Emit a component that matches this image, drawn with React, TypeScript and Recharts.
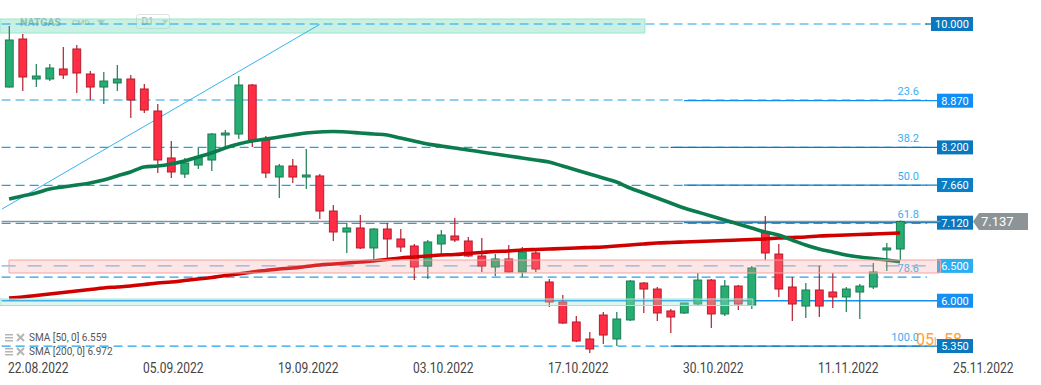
import { Bar, ComposedChart, Line, ReferenceArea, ReferenceLine, XAxis, YAxis } from "recharts"

const dates = ["22.08.2022", "05.09.2022", "19.09.2022", "03.10.2022", "17.10.2022", "30.10.2022", "11.11.2022", "25.11.2022"]
const dateIdx = [0, 10, 20, 30, 40, 50, 60, 70]

const opens = [
  9.066, 9.755, 9.181, 9.181, 9.325, 9.612, 9.253, 9.066, 9.124, 9.181,
  9.038, 8.722, 8.048, 7.818, 7.947, 8.019, 8.378, 8.392, 9.095, 8.306,
  7.775, 7.933, 7.775, 7.79, 7.287, 6.986, 7.044, 6.757, 7.029, 6.886,
  6.785, 6.498, 6.814, 6.929, 6.857, 6.642, 6.484, 6.599, 6.412, 6.685,
  6.269, 5.982, 5.695, 5.451, 5.795, 5.451, 5.724, 6.254, 6.168, 5.853,
  5.824, 5.953, 6.297, 5.81, 6.211, 5.939, 6.986, 6.67, 6.197, 5.924,
  6.154, 6.125, 6.054, 6.125, 6.197, 6.728, 6.742,
]
const highs = [
  9.942, 9.827, 9.396, 9.396, 9.64, 9.669, 9.296, 9.282, 9.382, 9.239,
  9.109, 8.823, 8.292, 8.048, 8.191, 8.406, 8.45, 9.224, 9.109, 8.363,
  7.962, 8.033, 8.177, 7.818, 7.374, 7.115, 7.23, 7.044, 7.115, 7.029,
  6.814, 6.871, 7.015, 7.187, 6.914, 6.9, 6.67, 6.8, 6.771, 6.714,
  6.312, 6.082, 5.781, 5.551, 5.838, 5.838, 6.297, 6.269, 6.197, 5.881,
  5.968, 6.398, 6.312, 6.297, 6.226, 6.498, 7.216, 6.814, 6.34, 6.254,
  6.498, 6.398, 6.197, 6.24, 6.541, 6.828, 7.15,
]
const lows = [
  9.06, 9.009, 9.066, 9.152, 9.181, 8.98, 8.88, 8.823, 9.009, 8.622,
  8.693, 7.833, 7.761, 7.761, 7.89, 7.861, 8.206, 8.32, 8.206, 7.761,
  7.474, 7.689, 7.603, 7.173, 6.857, 6.685, 6.742, 6.584, 6.584, 6.699,
  6.297, 6.312, 6.656, 6.843, 6.627, 6.412, 6.355, 6.398, 6.34, 6.412,
  5.91, 5.666, 5.408, 5.25, 5.379, 5.35, 5.709, 5.824, 5.709, 5.537,
  5.81, 5.939, 5.609, 5.781, 5.867, 5.881, 6.584, 6.054, 5.709, 5.752,
  5.767, 5.896, 5.838, 5.738, 6.168, 6.427, 6.584,
]
const closes = [
  9.741, 9.21, 9.224, 9.339, 9.239, 9.267, 9.066, 9.152, 9.181, 8.88,
  8.736, 8.019, 7.847, 7.976, 8.062, 8.392, 8.406, 9.095, 8.306, 7.833,
  7.933, 7.775, 7.804, 7.287, 6.986, 7.044, 6.757, 7.029, 6.886, 6.771,
  6.484, 6.843, 6.943, 6.871, 6.642, 6.498, 6.599, 6.412, 6.699, 6.455,
  5.982, 5.68, 5.422, 5.308, 5.508, 5.738, 6.283, 6.168, 5.824, 5.767,
  5.968, 6.297, 5.81, 6.211, 5.953, 6.47, 6.685, 6.168, 5.953, 6.154,
  5.924, 6.054, 6.168, 6.211, 6.412, 6.757, 7.137,
]
const sma50 = [
  7.46, 7.503, 7.546, 7.603, 7.632, 7.66, 7.689, 7.732, 7.79, 7.847,
  7.919, 7.933, 7.962, 8.005, 8.062, 8.12, 8.191, 8.249, 8.292, 8.32,
  8.349, 8.378, 8.406, 8.421, 8.428, 8.421, 8.406, 8.392, 8.378, 8.335,
  8.292, 8.249, 8.22, 8.191, 8.163, 8.134, 8.105, 8.077, 8.048, 8.019,
  7.99, 7.933, 7.876, 7.818, 7.761, 7.703, 7.617, 7.546, 7.474, 7.402,
  7.33, 7.273, 7.216, 7.158, 7.101, 7.044, 6.986, 6.943, 6.871, 6.8,
  6.742, 6.699, 6.656, 6.627, 6.606, 6.584, 6.559,
]
const sma200 = [
  6.039, 6.053, 6.075, 6.097, 6.118, 6.14, 6.161, 6.183, 6.197, 6.211,
  6.233, 6.254, 6.269, 6.29, 6.312, 6.333, 6.362, 6.384, 6.412, 6.434,
  6.455, 6.47, 6.491, 6.513, 6.527, 6.541, 6.556, 6.57, 6.592, 6.613,
  6.627, 6.642, 6.656, 6.663, 6.678, 6.692, 6.706, 6.713, 6.728, 6.735,
  6.742, 6.749, 6.757, 6.764, 6.771, 6.785, 6.8, 6.814, 6.828, 6.836,
  6.843, 6.85, 6.857, 6.864, 6.871, 6.879, 6.886, 6.9, 6.907, 6.914,
  6.929, 6.936, 6.943, 6.95, 6.957, 6.965, 6.972,
]

const priceTicks = [9.511, 8.966, 8.421, 7.877, 7.332, 6.788, 6.243, 5.698, 5.154]

const fibLevels = [9.97, 8.88, 8.2, 7.655, 7.11, 6.34, 5.35]
const fibNames = ["0.0", "23.6", "38.2", "50.0", "61.8", "78.6", "100.0"]

const levels = [9.97, 8.87, 8.2, 7.66, 7.12, 6.0, 5.35]
const levelText = ["10.000", "8.870", "8.200", "7.660", "7.120", "6.000", "5.350"]
const levelStart = [67.85, 50, 49, 50, 50, -0.55, 49]
const levelColor = ["#0a78be", "#0f8ef5", "#0a78be", "#0a7fc8", "#0a78be", "#168ff5", "#0a78be"]

const zoneLevel = 6.5
const lastPrice = 7.137
const trend = [
  { x: -0.52, y: 7.316 },
  { x: 23.0, y: 9.963 },
]
const legendRows = [
  { name: "SMA [50, 0]", value: 6.559 },
  { name: "SMA [200, 0]", value: 6.972 },
]

const X_MIN = -0.67
const X_MAX = 76.44
const Y_MIN = 5.1497
const Y_MAX = 10.3146
const PLOT_END = 69
const BOX_RIGHT = 973

const rows = opens.map((o, i) => ({
  i,
  open: o,
  high: highs[i],
  low: lows[i],
  close: closes[i],
  range: [lows[i], highs[i]],
  sma50: sma50[i],
  sma200: sma200[i],
}))

function Candle(props: any) {
  const { x, y, width, height, payload } = props
  if (!payload) return null
  const { open, close, high, low } = payload
  const top = Math.min(y, y + height)
  const h = Math.abs(height)
  const k = high === low ? 0 : h / (high - low)
  const py = (v: number) => top + (high - v) * k
  const cx = x + width / 2
  const up = close >= open
  const fill = up ? "#26ad73" : "#ff2e45"
  const stroke = up ? "#1c7c52" : "#b31e2d"
  const bTop = py(Math.max(open, close))
  const bH = Math.max(1, Math.abs(py(open) - py(close)))
  return (
    <g>
      <line x1={cx} x2={cx} y1={py(high)} y2={py(low)} stroke={stroke} strokeWidth={1.2} />
      <rect x={cx - 3.9} y={bTop} width={7.8} height={bH} fill={fill} stroke={stroke} strokeWidth={1} />
    </g>
  )
}

function DateTick(props: any) {
  const { x, payload } = props
  const label = dates[dateIdx.indexOf(payload.value)]
  return (
    <text transform={`translate(${x - 1},373) scale(0.86,1)`} fontSize={14} fontFamily="Roboto" fill="#444">
      {label}
    </text>
  )
}

function PriceTick(props: any) {
  const { y, payload } = props
  const yy = Math.min(y, 353)
  return (
    <g>
      <line x1={973} x2={978} y1={yy} y2={yy} stroke="#d0d0d0" />
      <text transform={`translate(981,${yy + 5}) scale(0.86,1)`} fontSize={14} fontFamily="Roboto" fill="#3c3c3c">
        {payload.value.toFixed(3)}
      </text>
    </g>
  )
}

const fibLabel = (name: string, withTimer: boolean) => (p: any) => {
  const yy = p.viewBox.y
  return (
    <g>
      <text x={919} y={yy - 5} textAnchor="end" fontSize={11} fontFamily="Roboto" fill="#3aaef0">
        {name}
      </text>
      {withTimer && (
        <text x={916} y={yy - 1} fontFamily="Roboto" fill="#ffa13a">
          <tspan fontSize={16}>05</tspan>
          <tspan fontSize={11} fill="#b8b8b8">h</tspan>
          <tspan fontSize={16}> 58</tspan>
          <tspan fontSize={11} fill="#b8b8b8">m</tspan>
        </text>
      )}
    </g>
  )
}

const boxLabel = (text: string, color: string) => (p: any) => {
  const yy = p.viewBox.y
  const w = text.length * 6 + 6
  return (
    <g>
      <rect x={BOX_RIGHT - w} y={yy - 7} width={w} height={14} fill={color} />
      <text x={BOX_RIGHT - w / 2} y={yy + 4} textAnchor="middle" fontSize={11} fontFamily="Roboto" fill="#fff">
        {text}
      </text>
    </g>
  )
}

const priceMarker = (p: any) => {
  const yy = p.viewBox.y
  return (
    <g>
      <polygon
        points={`${BOX_RIGHT},${yy} ${BOX_RIGHT + 6},${yy - 8.5} 1028,${yy - 8.5} 1028,${yy + 8.5} ${BOX_RIGHT + 6},${yy + 8.5}`}
        fill="#8d9497"
      />
      <text x={981} y={yy + 4.5} fontSize={13} fontFamily="Roboto" fill="#fff">
        {lastPrice.toFixed(3)}
      </text>
    </g>
  )
}

function ListIcon() {
  return (
    <svg width={22} height={10} style={{ marginRight: 2 }}>
      <rect x={0} y={1} width={8} height={1.5} fill="#b5b5b5" />
      <rect x={0} y={4} width={8} height={1.5} fill="#b5b5b5" />
      <rect x={0} y={7} width={8} height={1.5} fill="#b5b5b5" />
      <line x1={12} y1={1} x2={19} y2={8} stroke="#b5b5b5" strokeWidth={2} />
      <line x1={19} y1={1} x2={12} y2={8} stroke="#b5b5b5" strokeWidth={2} />
    </svg>
  )
}

export default function App() {
  return (
    <div style={{ position: "absolute", left: 0, top: 0, width: 1041, height: 385, background: "#fff", overflow: "hidden", fontFamily: "Roboto" }}>
      <div style={{ position: "absolute", left: 20, top: 16, display: "flex", alignItems: "center", color: "#8d9d9a" }}>
        <span style={{ fontSize: 10.5, fontWeight: 700 }}>NATGAS</span>
        <span style={{ fontSize: 8, marginLeft: 11, color: "#a0aeab" }}>CMD</span>
        <span style={{ marginLeft: 8, width: 0, height: 0, borderLeft: "4px solid transparent", borderRight: "4px solid transparent", borderTop: "5px solid #b6c2bf" }} />
        <span style={{ marginLeft: 31, marginTop: -2, width: 34, height: 15, border: "1px solid #dbe2e1", borderRadius: 3, display: "flex", alignItems: "center", boxSizing: "border-box", paddingLeft: 4, fontSize: 10, color: "#a3aeac" }}>
          D1
          <span style={{ marginLeft: 8, width: 0, height: 0, borderLeft: "3.5px solid transparent", borderRight: "3.5px solid transparent", borderTop: "4px solid #c3ccca" }} />
        </span>
      </div>
      <div style={{ position: "absolute", left: 0, top: 0 }}>
        <ComposedChart width={1041} height={385} data={rows} margin={{ top: 0, right: 0, bottom: 0, left: 0 }}>
          <XAxis
            type="number"
            dataKey="i"
            domain={[X_MIN, X_MAX]}
            ticks={dateIdx}
            interval={0}
            allowDataOverflow
            tick={<DateTick />}
            axisLine={false}
            tickLine={false}
            height={25}
          />
          <YAxis
            orientation="right"
            width={0}
            domain={[Y_MIN, Y_MAX]}
            ticks={priceTicks}
            interval={0}
            allowDataOverflow
            tick={<PriceTick />}
            axisLine={false}
            tickLine={false}
          />
          <ReferenceArea
            x1={X_MIN}
            x2={47.1}
            y1={9.841}
            y2={10.042}
            fill="#86e0c4"
            fillOpacity={0.45}
            stroke="#9ae6cd"
            strokeOpacity={1}
            ifOverflow="visible"
            zIndex={100}
          />
          {fibLevels.map((v, k) => (
            <ReferenceLine
              key={"fib" + k}
              segment={[
                { x: -0.55, y: v },
                { x: 68.0, y: v },
              ]}
              stroke="#1fa2ea"
              strokeWidth={1.2}
              strokeDasharray="9 5"
              ifOverflow="visible"
              label={k === 0 ? undefined : fibLabel(fibNames[k], k === fibLevels.length - 1)}
              zIndex={110}
            />
          ))}
          <ReferenceLine
            segment={[
              { x: -0.55, y: zoneLevel },
              { x: PLOT_END, y: zoneLevel },
            ]}
            stroke="#6fb6ea"
            strokeWidth={1.3}
            strokeDasharray="14 12"
            ifOverflow="visible"
            label={boxLabel(zoneLevel.toFixed(3), "#29aef2")}
            zIndex={115}
          />
          {levels.map((v, k) => (
            <ReferenceLine
              key={"lvl" + k}
              segment={[
                { x: levelStart[k], y: v },
                { x: PLOT_END, y: v },
              ]}
              stroke={levelColor[k]}
              strokeWidth={1.3}
              ifOverflow="visible"
              label={boxLabel(levelText[k], levelColor[k])}
              zIndex={120}
            />
          ))}
          <ReferenceLine segment={trend} stroke="#33b3ef" strokeWidth={1} ifOverflow="visible" zIndex={130} />
          <ReferenceLine
            segment={[
              { x: -0.55, y: lastPrice },
              { x: PLOT_END, y: lastPrice },
            ]}
            stroke="#8a9396"
            strokeWidth={1.5}
            ifOverflow="visible"
            label={priceMarker}
            zIndex={140}
          />
          <Bar dataKey="range" shape={Candle} barSize={8} isAnimationActive={false} zIndex={300} />
          <Line
            dataKey="sma200"
            type="monotone"
            stroke="#d00000"
            strokeWidth={3.6}
            dot={false}
            activeDot={false}
            isAnimationActive={false}
            zIndex={400}
          />
          <Line
            dataKey="sma50"
            type="monotone"
            stroke="#0b7c4e"
            strokeWidth={3.6}
            dot={false}
            activeDot={false}
            isAnimationActive={false}
            zIndex={410}
          />
          <ReferenceArea
            x1={0}
            x2={PLOT_END}
            y1={6.398}
            y2={6.584}
            fill="#f49b9b"
            fillOpacity={0.25}
            stroke="#f3a3a3"
            strokeOpacity={1}
            ifOverflow="visible"
            zIndex={450}
          />
          <ReferenceArea
            x1={X_MIN}
            x2={55.1}
            y1={5.932}
            y2={6.025}
            fill="#9fe6cf"
            fillOpacity={0.35}
            stroke="#a3e3cf"
            strokeOpacity={1}
            ifOverflow="visible"
            zIndex={450}
          />
        </ComposedChart>
      </div>
      <div style={{ position: "absolute", left: 5, top: 331, fontSize: 10, color: "#555", lineHeight: "14px" }}>
        {legendRows.map((r) => (
          <div key={r.name} style={{ display: "flex", alignItems: "center" }}>
            <ListIcon />
            <span>
              {r.name} {r.value.toFixed(3)}
            </span>
          </div>
        ))}
      </div>
    </div>
  )
}
